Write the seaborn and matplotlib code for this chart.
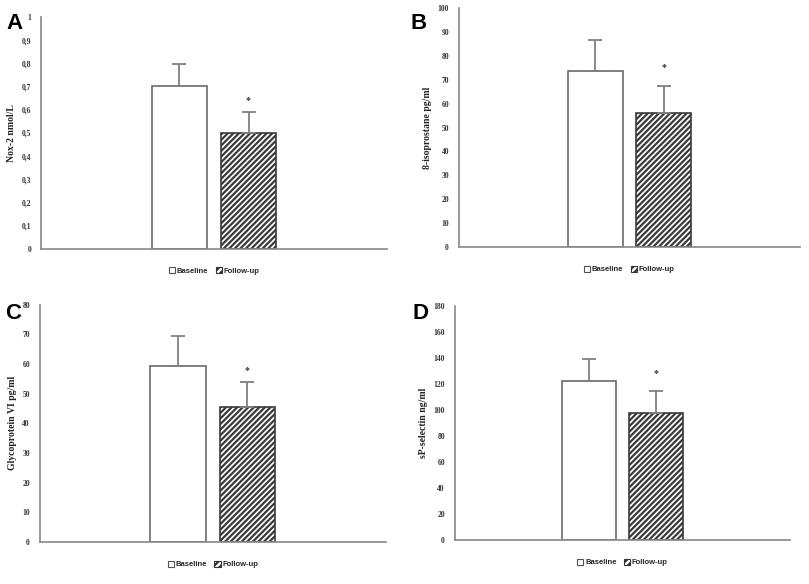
import matplotlib
matplotlib.use("Agg")
import matplotlib.pyplot as plt
import matplotlib.patches as mpatches
import seaborn as sns
import pandas as pd

groups = ["Baseline", "Follow-up"]

nox_mean = [0.70, 0.50]
nox_err = [0.095, 0.09]
iso_mean = [73.5, 56.0]
iso_err = [13.0, 11.5]
gp_mean = [59.5, 45.5]
gp_err = [10.0, 8.5]
sel_mean = [122.0, 98.0]
sel_err = [17.0, 17.0]

star_y = [0.64, 75.0, 58.0, 128.0]
letters = ["A", "B", "C", "D"]
ylabels = ["Nox-2 nmol/L", "8-isoprostane pg/ml", "Glycoprotein VI pg/ml", "sP-selectin ng/ml"]
ymax = [1.0, 100, 80, 180]
ystep = [0.1, 10, 10, 20]

# axes rectangles in figure fractions
rects = [
    [0.051, 0.574, 0.427, 0.397],
    [0.567, 0.577, 0.422, 0.409],
    [0.049, 0.072, 0.428, 0.406],
    [0.562, 0.075, 0.415, 0.401],
]
letter_pos = [(0.008, 0.978), (0.508, 0.978), (0.006, 0.481), (0.510, 0.481)]

means = [nox_mean, iso_mean, gp_mean, sel_mean]
errs = [nox_err, iso_err, gp_err, sel_err]

sns.set_style("white")
plt.rcParams["hatch.linewidth"] = 1.6

fig = plt.figure(figsize=(8.09, 5.84), dpi=100)
serif = "Liberation Serif"
sans = "Liberation Sans"

for i in range(4):
    ax = fig.add_axes(rects[i])
    df = pd.DataFrame({"group": groups, "value": means[i]})
    sns.barplot(data=df, x="group", y="value", hue="group",
                palette=["white", "white"], legend=False, ax=ax, width=0.8)
    for j, bar in enumerate(ax.patches):
        bar.set_linewidth(1.2)
        if j == 1:
            bar.set_edgecolor("#3a3a3a")
            bar.set_hatch("//////")
        else:
            bar.set_edgecolor("#6a6a6a")
    ax.errorbar([0, 1], means[i], yerr=[[0, 0], errs[i]], fmt="none",
                ecolor="#808080", elinewidth=1.3, capsize=5, capthick=1.3)
    ax.text(1, star_y[i], "*", ha="center", va="center", fontsize=7,
            fontweight="bold", color="#333333", family=serif)
    ax.set_xlim(-2, 3)
    ax.set_ylim(0, ymax[i])
    n = int(round(ymax[i] / ystep[i]))
    ticks = [k * ystep[i] for k in range(n + 1)]
    ax.set_yticks(ticks)
    if i == 0:
        labels = ["0"] + [("%.1f" % t).replace(".", ",") for t in ticks[1:-1]] + ["1"]
    else:
        labels = ["%d" % t for t in ticks]
    ax.set_yticklabels(labels, fontsize=5.5, fontweight="bold", family=serif, color="#333333")
    ax.set_xticks([])
    ax.set_xlabel("")
    ax.set_ylabel(ylabels[i], fontsize=7, fontweight="bold", family=serif, color="#222222")
    ax.tick_params(axis="y", length=3, width=1, color="#888888", pad=4)
    sns.despine(ax=ax)
    for s in ["left", "bottom"]:
        ax.spines[s].set_color("#888888")
        ax.spines[s].set_linewidth(1.2)

    h1 = mpatches.Patch(facecolor="white", edgecolor="#555555", linewidth=0.8, label=groups[0])
    h2 = mpatches.Patch(facecolor="white", edgecolor="#333333", hatch="/////", linewidth=0.8, label=groups[1])
    ax.legend(handles=[h1, h2], loc="upper center", bbox_to_anchor=(0.5, -0.05),
              ncol=2, frameon=False, handlelength=0.8, handleheight=0.8,
              handletextpad=0.2, columnspacing=1.0,
              prop={"family": sans, "weight": "bold", "size": 5.5})

    fig.text(letter_pos[i][0], letter_pos[i][1], letters[i], fontsize=16,
             fontweight="bold", family=sans, va="top", ha="left", color="black")

fig.savefig("out.png", dpi=100)
